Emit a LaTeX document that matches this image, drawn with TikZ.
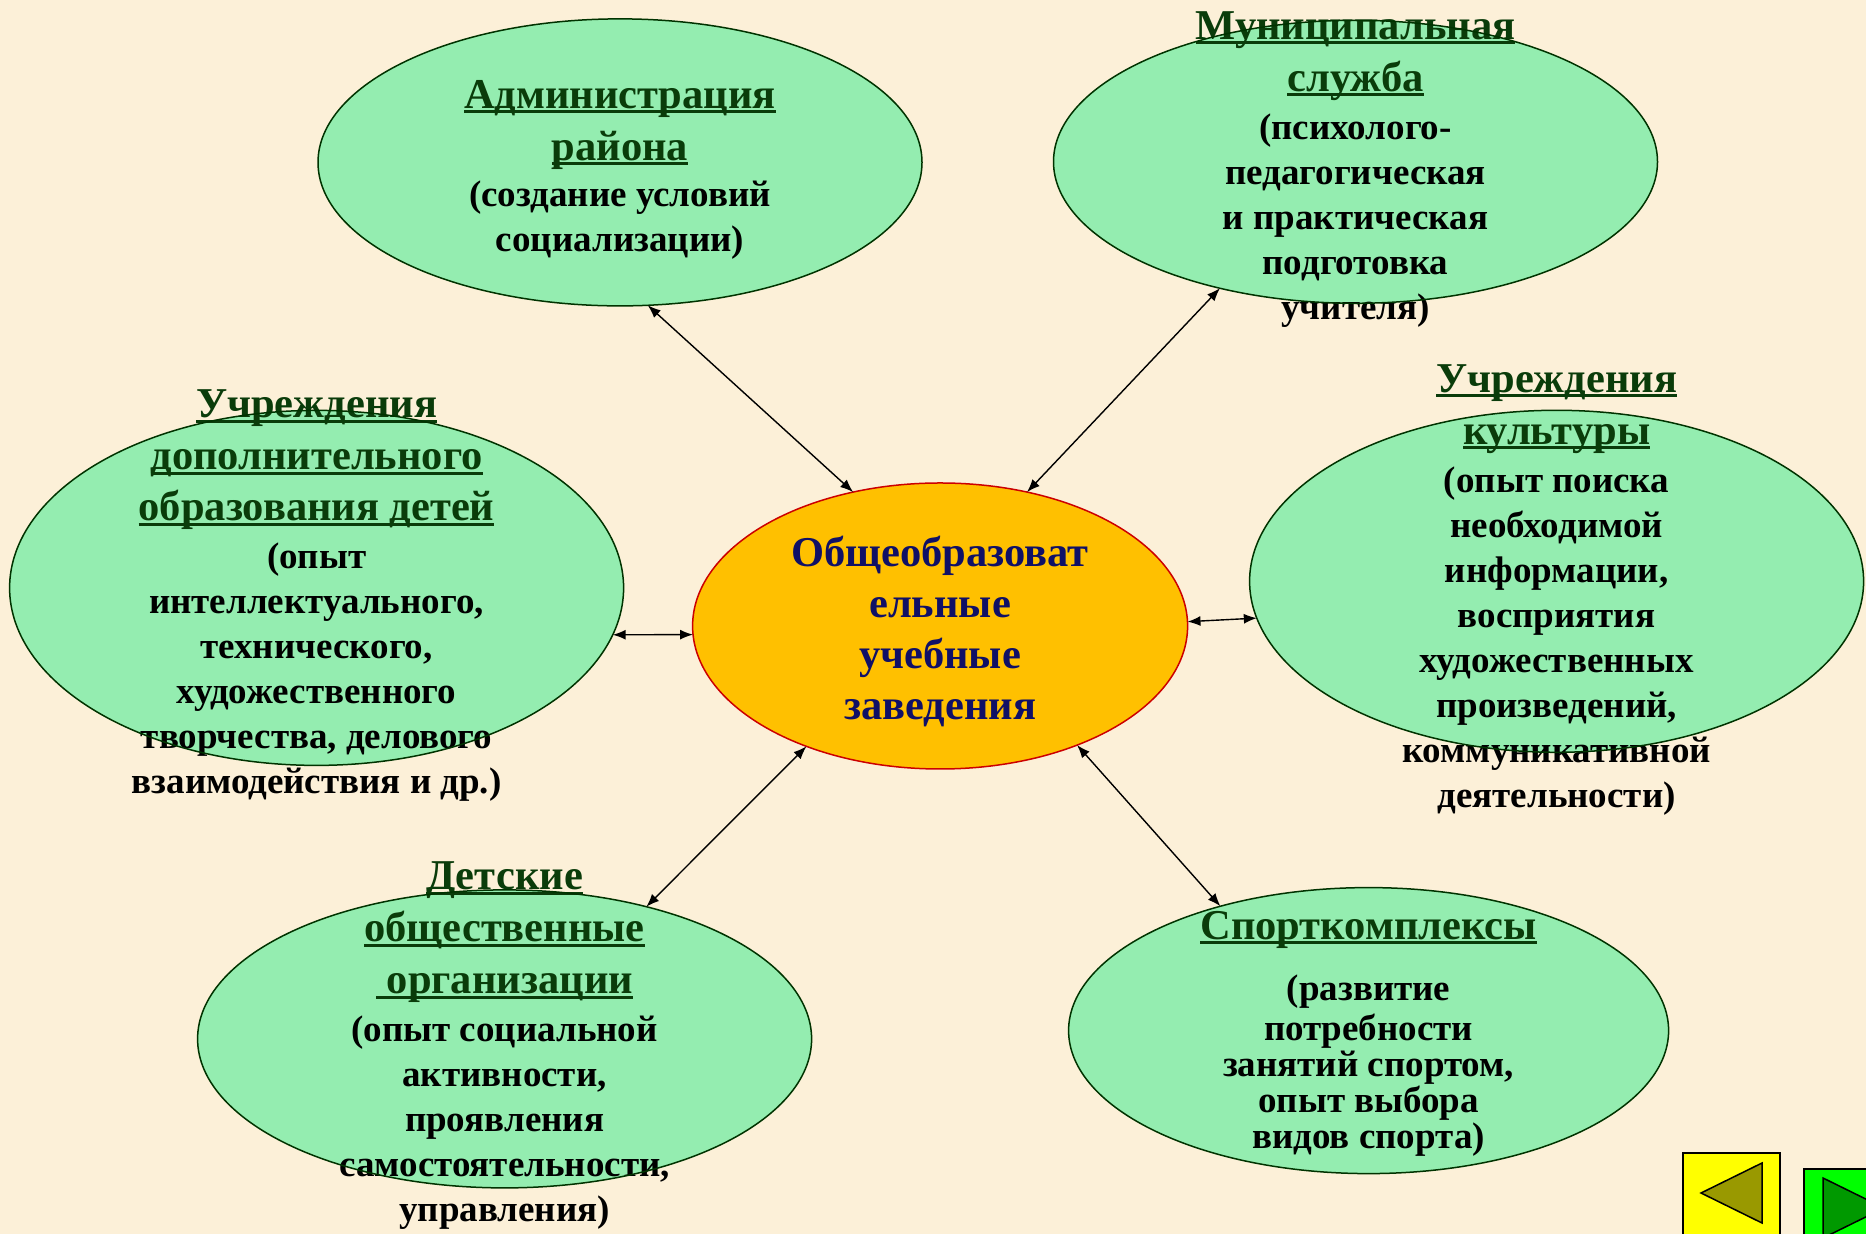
\documentclass[tikz,border=0pt]{standalone}
\usepackage{fontspec}
\setmainfont{Liberation Serif}
\usetikzlibrary{shapes.geometric,arrows.meta}
\definecolor{bgc}{RGB}{252,240,216}
\definecolor{ellg}{RGB}{148,237,176}
\definecolor{edgeg}{RGB}{0,51,0}
\definecolor{headg}{RGB}{10,60,10}
\definecolor{ctrf}{RGB}{255,192,0}
\definecolor{ctre}{RGB}{204,0,0}
\definecolor{ctrt}{RGB}{16,16,102}
\newcommand\hdul[1]{\leavevmode\setbox0\hbox{#1}\rlap{\rule[-0.11em]{\wd0}{0.065em}}\box0}
\newcommand\hfont{\fontsize{42.5}{52}\selectfont\color{headg}}
\tikzset{
  oval/.style={ellipse, fill=ellg, inner sep=0pt, outer sep=0pt},
  rim/.style={draw=edgeg, line width=1.5pt},
  txt/.style={align=center, font=\bfseries\fontsize{37}{45}\selectfont, inner sep=0pt},
  link/.style={{Latex[length=13pt,width=10pt]}-{Latex[length=13pt,width=10pt]}, line width=1.4pt},
  navbox/.style={line width=1.5pt, draw=black}
}
\begin{document}
\begin{tikzpicture}[x=1pt,y=1pt]
\fill[bgc] (0,0) rectangle (1866,1234);
\useasboundingbox (0,0) rectangle (1866,1234);

% ellipses (fill)
\node[oval, minimum width=604, minimum height=287] (admin) at (620,1071.6) {};
\node[oval, minimum width=604, minimum height=283] (muni) at (1355.5,1072.2) {};
\node[oval, minimum width=614, minimum height=355] (dop) at (316.6,646.1) {};
\node[oval, minimum width=614, minimum height=342] (cult) at (1556.6,652.7) {};
\node[oval, minimum width=614, minimum height=298] (kids) at (504.6,195.1) {};
\node[oval, minimum width=600, minimum height=286] (sport) at (1368.6,203.4) {};
\node[ellipse, fill=ctrf, draw=ctre, line width=1.5pt, inner sep=0pt, outer sep=0pt,
      minimum width=495, minimum height=286] (ctr) at (940.1,608) {};

% texts
\node[txt] (tadmin) at (620,1064) {%
  {\hfont\hdul{Администрация}}\\[7pt]
  {\hfont\hdul{района}}\\[1pt]
  (создание условий\\
  социализации)};
\node[txt] (tmuni) at (1355.5,1064.5) {%
  {\hfont\hdul{Муниципальная}}\\[7pt]
  {\hfont\hdul{служба}}\\[3pt]
  (психолого-\\
  педагогическая\\
  и практическая\\
  подготовка\\
  учителя)};
\node[txt] (tdop) at (316.6,638) {%
  {\hfont\hdul{Учреждения}}\\[7pt]
  {\hfont\hdul{дополнительного}}\\[6pt]
  {\hfont\hdul{образования детей}}\\[3pt]
  (опыт\\
  интеллектуального,\\
  технического,\\
  художественного\\
  творчества, делового\\
  взаимодействия и др.)};
\node[txt] (tcult) at (1556.6,644) {%
  {\hfont\hdul{Учреждения}}\\[7pt]
  {\hfont\hdul{культуры}}\\[3pt]
  (опыт поиска\\
  необходимой\\
  информации,\\
  восприятия\\
  художественных\\
  произведений,\\
  коммуникативной\\
  деятельности)};
\node[txt] (tkids) at (504.6,188) {%
  {\hfont\hdul{Детские}}\\[7pt]
  {\hfont\hdul{общественные}}\\[7pt]
  {\hfont\hdul{\ организации}}\\[3pt]
  (опыт социальной\\
  активности,\\
  проявления\\
  самостоятельности,\\
  управления)};
\node[txt, font=\bfseries\fontsize{37}{36}\selectfont] (tsport) at (1368.6,200.5) {%
  {\hfont\hdul{Спорткомплексы}}\\[25pt]
  (развитие\\[4pt]
  потребности\\
  занятий спортом,\\
  опыт выбора\\
  видов спорта)};
\node[align=center, inner sep=0pt, text=ctrt,
      font=\bfseries\fontsize{42.5}{51}\selectfont] (tctr) at (940.1,603) {%
  Общеобразоват\\
  ельные\\
  учебные\\
  заведения};

% outlines drawn over the text
\draw[rim] (admin.center) ellipse [x radius=302, y radius=143.5];
\draw[rim] (muni.center) ellipse [x radius=302, y radius=141.5];
\draw[rim] (dop.center) ellipse [x radius=307, y radius=177.5];
\draw[rim] (cult.center) ellipse [x radius=307, y radius=171];
\draw[rim] (kids.center) ellipse [x radius=307, y radius=149];
\draw[rim] (sport.center) ellipse [x radius=300, y radius=143];

% connectors
\draw[link] (admin.-79) -- (ctr.123);
\draw[link] (muni.-137) -- (ctr.57);
\draw[link] (dop.-9) -- (ctr.-178.5);
\draw[link] (ctr.1.7) -- (cult.-173);
\draw[link] (ctr.-138.4) -- (kids.43);
\draw[link] (ctr.-41.6) -- (sport.140);

% navigation buttons
\filldraw[navbox, fill={rgb,255:red,255;green,255;blue,0}] (1683,-10) rectangle (1780,81);
\filldraw[navbox, fill={rgb,255:red,153;green,153;blue,0}] (1701,41) -- (1762,71) -- (1762,11) -- cycle;
\filldraw[navbox, fill={rgb,255:red,0;green,255;blue,0}] (1804,-10) rectangle (1890,65);
\filldraw[navbox, fill={rgb,255:red,0;green,153;blue,0}] (1823,56) -- (1823,-4) -- (1884,26) -- cycle;
\end{tikzpicture}
\end{document}
